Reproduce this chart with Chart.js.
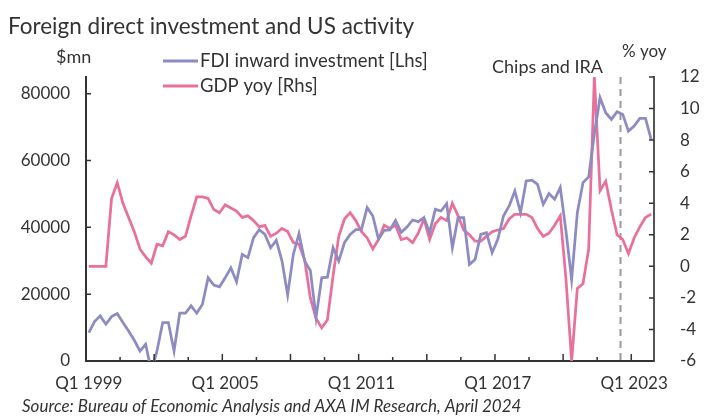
<!DOCTYPE html>
<html>
<head>
<meta charset="utf-8">
<script src="https://cdn.jsdelivr.net/npm/chart.js@4.4.1/dist/chart.umd.min.js"></script>
<style>
  html, body { margin: 0; padding: 0; background: #fff; }
</style>
</head>
<body>
<canvas id="fdi-chart" width="713" height="417"></canvas>
<script>
// FDI inward investment, $mn (left axis), Q1 1999 .. Q4 2023
const fdiInward = [
    8500, 11800, 13500, 11000, 13300, 14200, 11500, 9000, 6200, 3000,
    5000, -3000, 3000, 11500, 11500, 3000, 14300, 14300, 16500, 14300,
    17000, 24900, 22700, 22200, 24900, 27900, 23700, 31900, 30900, 36900,
    39300, 37900, 33900, 36100, 30000, 19800, 31900, 38100, 29900, 27100,
    13000, 24900, 25100, 33900, 29900, 35400, 37900, 39300, 39400, 45900,
    43400, 36400, 39100, 39200, 42100, 38500, 40100, 42200, 41700, 42900,
    38400, 45400, 44900, 47100, 33900, 42900, 42900, 28900, 30400, 37900,
    38400, 32400, 36400, 43400, 46400, 50900, 44400, 53900, 54100, 52900,
    46900, 50100, 48400, 51900, 38900, 24400, 44400, 53400, 55100, 68000,
    78800, 74300, 72300, 74600, 73800, 68800, 70300, 72600, 72600, 66300
];

// GDP yoy, % (right axis)
const gdpYoy = [
    0, 0, 0, 0, 4.3, 5.3, 4.0, 3.1, 2.2, 1.1,
    0.6, 0.2, 1.4, 1.3, 2.2, 2.0, 1.7, 1.9, 3.2, 4.4,
    4.4, 4.3, 3.6, 3.4, 3.9, 3.7, 3.5, 3.1, 3.2, 2.9,
    2.5, 2.6, 1.9, 2.1, 2.4, 2.2, 1.5, 1.4, 0.4, -2.0,
    -3.3, -3.9, -3.4, -0.6, 1.9, 3.0, 3.4, 2.9, 2.2, 1.8,
    1.1, 1.7, 2.6, 2.4, 2.6, 1.7, 1.8, 1.5, 2.1, 3.0,
    1.7, 2.7, 3.1, 2.9, 4.0, 3.2, 2.3, 2.0, 1.6, 1.6,
    1.9, 2.2, 2.3, 2.4, 3.0, 3.3, 3.3, 3.3, 3.1, 2.4,
    1.9, 2.1, 2.6, 3.2, -0.8, -6.0, -1.4, -1.1, 1.1, 12.0,
    4.8, 5.4, 3.6, 2.0, 1.7, 0.8, 1.8, 2.5, 3.1, 3.3
];

const leftTicks = [0, 20000, 40000, 60000, 80000];
const rightTicks = [-6, -4, -2, 0, 2, 4, 6, 8, 10, 12];
const labelEvery = 24;      // one x label every 6 years
const tickEvery = 6;        // small tick marks every 6 quarters
const chipsAndIra = 93.6;   // Q3 2022, on the category axis

const quarters = [];
for (let y = 1999; y <= 2023; y++) {
    for (let q = 1; q <= 4; q++) quarters.push('Q' + q + ' ' + y);
}

const FONT = 'Lato, "Open Sans", sans-serif';
const TEXT = '#333333';
const PURPLE = '#8d8bc2';
const PINK = '#e9709a';

const decorations = {
    id: 'decorations',
    beforeDatasetsDraw(chart) {
        const { ctx, chartArea: a, scales: { x } } = chart;
        const px = x.getPixelForValue(chipsAndIra);
        ctx.save();
        ctx.strokeStyle = '#9a9a9a';
        ctx.lineWidth = 2;
        ctx.setLineDash([7, 5]);
        ctx.beginPath();
        ctx.moveTo(px, a.top);
        ctx.lineTo(px, a.bottom);
        ctx.stroke();
        ctx.restore();
    },
    afterDraw(chart) {
        const { ctx, chartArea: a, scales: { x, yL, yR } } = chart;
        ctx.save();

        // tick marks pointing into the plot
        ctx.strokeStyle = '#333';
        ctx.lineWidth = 1.5;
        ctx.beginPath();
        for (let k = 0; k * tickEvery <= quarters.length; k++) {
            const px = x.getPixelForValue(k * tickEvery - 0.5);
            const len = k % 2 === 0 ? 7 : 4;
            ctx.moveTo(px, a.bottom);
            ctx.lineTo(px, a.bottom - len);
        }
        leftTicks.forEach(v => {
            const py = yL.getPixelForValue(v);
            ctx.moveTo(a.left, py);
            ctx.lineTo(a.left + 5, py);
        });
        rightTicks.forEach(v => {
            const py = yR.getPixelForValue(v);
            ctx.moveTo(a.right, py);
            ctx.lineTo(a.right - 5, py);
        });
        ctx.stroke();

        // texts
        ctx.fillStyle = TEXT;
        ctx.textBaseline = 'middle';
        ctx.textAlign = 'left';
        ctx.font = '22.5px ' + FONT;
        ctx.fillText('Foreign direct investment and US activity', 8, 27);
        ctx.font = '18px ' + FONT;
        ctx.fillText('$mn', 56, 57);
        ctx.fillText('Chips and IRA', 492, 67);
        ctx.font = '17px ' + FONT;
        ctx.fillText('% yoy', 622, 52);

        // legend
        ctx.font = '18.5px ' + FONT;
        const items = [
            { text: chart.data.datasets[0].label, color: PURPLE, y: 61 },
            { text: chart.data.datasets[1].label, color: PINK, y: 86 }
        ];
        items.forEach(it => {
            ctx.strokeStyle = it.color;
            ctx.lineWidth = 3;
            ctx.beginPath();
            ctx.moveTo(163, it.y);
            ctx.lineTo(198, it.y);
            ctx.stroke();
            ctx.fillText(it.text, 200, it.y);
        });

        ctx.font = 'italic 17px ' + FONT;
        ctx.fillText('Source: Bureau of Economic Analysis and AXA IM Research, April 2024', 22, 407);
        ctx.restore();
    }
};

const tickFont = { family: FONT, size: 17 };

new Chart(document.getElementById('fdi-chart'), {
    type: 'line',
    data: {
        labels: quarters,
        datasets: [
            {
                label: 'FDI inward investment [Lhs]',
                data: fdiInward,
                yAxisID: 'yL',
                borderColor: PURPLE,
                borderWidth: 2.75,
                pointRadius: 0,
                tension: 0
            },
            {
                label: 'GDP yoy [Rhs]',
                data: gdpYoy,
                yAxisID: 'yR',
                borderColor: PINK,
                borderWidth: 2.75,
                pointRadius: 0,
                tension: 0
            }
        ]
    },
    options: {
        responsive: false,
        animation: false,
        devicePixelRatio: 1,
        layout: { padding: { top: 77, bottom: 16, left: 0, right: 0 } },
        plugins: { legend: { display: false }, tooltip: { enabled: false } },
        scales: {
            x: {
                type: 'category',
                offset: true,
                grid: { display: false },
                border: { color: '#333', width: 2 },
                ticks: {
                    autoSkip: false,
                    maxRotation: 0,
                    padding: 4,
                    color: TEXT,
                    font: tickFont,
                    callback: (v, i) => (i % labelEvery === 0 ? quarters[i] : '')
                },
                afterFit: s => { s.height = 40; }
            },
            yL: {
                position: 'left',
                min: 0,
                max: 85000,
                grid: { display: false },
                border: { color: '#333', width: 2 },
                ticks: { padding: 8, color: TEXT, font: tickFont, callback: v => String(v) },
                afterBuildTicks: s => { s.ticks = leftTicks.map(v => ({ value: v })); },
                afterFit: s => { s.width = 86; }
            },
            yR: {
                position: 'right',
                min: -6,
                max: 12,
                grid: { display: false },
                border: { color: '#555', width: 2 },
                ticks: { padding: 18, color: TEXT, font: tickFont, callback: v => String(v) },
                afterBuildTicks: s => { s.ticks = rightTicks.map(v => ({ value: v })); },
                afterFit: s => { s.width = 59; }
            }
        }
    },
    plugins: [decorations]
});
</script>
</body>
</html>
